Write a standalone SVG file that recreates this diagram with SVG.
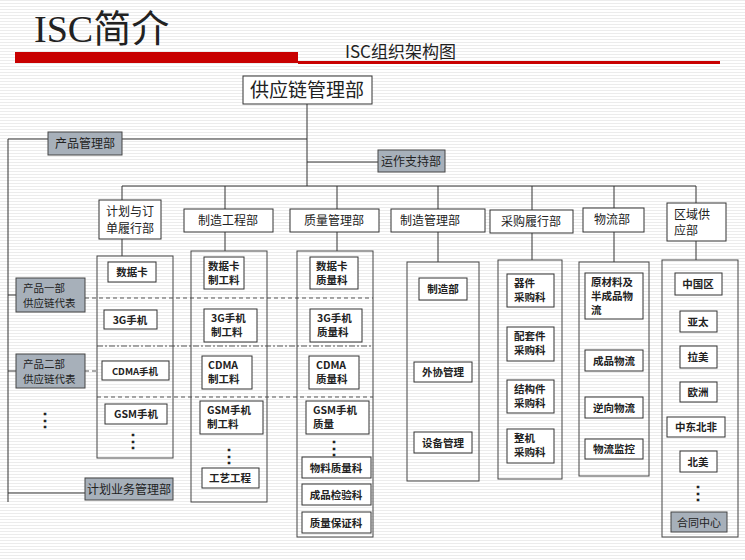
<svg xmlns="http://www.w3.org/2000/svg" width="745" height="560" viewBox="0 0 745 560">
<defs>
<pattern id="bg" width="4" height="3" patternUnits="userSpaceOnUse"><rect width="4" height="3" fill="#fff"/><rect width="4" height="1" fill="#ececec"/></pattern>
<style>
.b{fill:#fff;stroke:#333;stroke-width:1}
.g{fill:#a7b0ba;stroke:#444;stroke-width:1}
.c{fill:none;stroke:#444;stroke-width:1}
.l{stroke:#333;stroke-width:1;fill:none}
.d{stroke:#555;stroke-width:1;stroke-dasharray:4 3;fill:none}
.dd{stroke:#555;stroke-width:1;stroke-dasharray:6 2 2 2;fill:none}
text{font-family:"Noto Sans CJK SC","Liberation Sans",sans-serif;fill:#222}
.t{font-size:12px}
.i{font-size:10.5px;font-weight:bold}
.m{text-anchor:middle}
.s{font-size:10.5px}
</style>
</defs>
<rect width="745" height="560" fill="url(#bg)"/>
<text x="34" y="42" style="font-family:'Liberation Serif','Noto Sans CJK SC',serif;font-size:38px">ISC简介</text>
<rect x="15" y="52" width="283" height="11" fill="#c80000"/>
<rect x="298" y="61" width="422" height="3" fill="#c80000"/>
<text x="345" y="58" style="font-size:17px">ISC组织架构图</text>
<g id="connectors">
<path class="l" d="M307 104V186M8 139H307M307 162H378M122 186H696M8 139V502M8 295H16M8 371H16M8 493H85"/>
<path class="l" d="M122 186V200M225 186V209M337 186V209M438 186V209M532 186V210M614 186V208M696 186V203"/>
<path class="l" d="M122 239V256M225 232V251M337 232V251M438 232V262M532 233V260M614 232V262M696 241V260"/>
<path class="d" d="M85 298H373M85 371H97M97 397H373"/>
<path class="dd" d="M97 346H373"/>
</g>
<g id="top"><rect class="b" x="243" y="76" width="129" height="28"/><text class="m" x="307" y="97" style="font-size:19px">供应链管理部</text></g>
<g id="cp"><rect class="g" x="48" y="132" width="74" height="23"/><text class="t m" x="85" y="148">产品管理部</text></g>
<g id="yz"><rect class="g" x="378" y="150" width="67" height="22"/><text class="t m" x="411" y="166">运作支持部</text></g>
<g id="d1"><rect class="b" x="99" y="200" width="62" height="39"/><text class="t" x="106" y="216">计划与订</text><text class="t" x="106" y="233">单履行部</text></g>
<g id="d2"><rect class="b" x="184" y="209" width="89" height="23"/><text class="t m" x="228" y="225">制造工程部</text></g>
<g id="d3"><rect class="b" x="290" y="209" width="89" height="23"/><text class="t m" x="334" y="225">质量管理部</text></g>
<g id="d4"><rect class="b" x="391" y="209" width="94" height="23"/><text class="t m" x="430" y="225">制造管理部</text></g>
<g id="d5"><rect class="b" x="490" y="210" width="83" height="23"/><text class="t m" x="531" y="226">采购履行部</text></g>
<g id="d6"><rect class="b" x="583" y="208" width="61" height="24"/><text class="t m" x="612" y="224">物流部</text></g>
<g id="d7"><rect class="b" x="667" y="203" width="59" height="38"/><text class="t" x="674" y="219">区域供</text><text class="t" x="674" y="235">应部</text></g>
<g id="p1"><rect class="g" x="16" y="278" width="69" height="34"/><text class="s" x="23" y="292">产品一部</text><text class="s" x="23" y="307">供应链代表</text></g>
<g id="p2"><rect class="g" x="16" y="354" width="69" height="34"/><text class="s" x="23" y="368">产品二部</text><text class="s" x="23" y="383">供应链代表</text></g>
<text class="m" x="45" y="426" style="font-size:18px;font-weight:bold">⋮</text>
<g id="jh"><rect class="g" x="85" y="478" width="88" height="22"/><text class="t m" x="129" y="494">计划业务管理部</text></g>
<g id="col1"><rect class="c" x="97" y="256" width="76" height="202"/>
<rect class="b" x="108" y="262" width="48" height="20"/><text class="i m" x="132" y="276">数据卡</text>
<rect class="b" x="104" y="310" width="53" height="19"/><text class="i m" x="130" y="324">3G手机</text>
<rect class="b" x="102" y="361" width="67" height="19"/><text class="i m" x="135" y="375" style="font-size:9.5px">CDMA手机</text>
<rect class="b" x="105" y="404" width="62" height="20"/><text class="i m" x="136" y="418">GSM手机</text>
<text class="m" x="133" y="447" style="font-size:18px;font-weight:bold">⋮</text></g>
<g id="col2"><rect class="c" x="191" y="251" width="76" height="251"/>
<rect class="b" x="204" y="257" width="40" height="32"/><text class="i" x="208" y="270">数据卡</text><text class="i" x="208" y="284">制工料</text>
<rect class="b" x="204" y="309" width="53" height="33"/><text class="i" x="211" y="322">3G手机</text><text class="i" x="211" y="336">制工料</text>
<rect class="b" x="202" y="356" width="50" height="33"/><text class="i" x="208" y="369">CDMA</text><text class="i" x="208" y="383">制工料</text>
<rect class="b" x="200" y="401" width="63" height="33"/><text class="i" x="207" y="414">GSM手机</text><text class="i" x="207" y="428">制工料</text>
<text class="m" x="229" y="462" style="font-size:18px;font-weight:bold">⋮</text>
<rect class="b" x="202" y="468" width="57" height="20"/><text class="i m" x="230" y="482">工艺工程</text></g>
<g id="col3"><rect class="c" x="297" y="251" width="76" height="286"/>
<rect class="b" x="310" y="257" width="48" height="32"/><text class="i" x="316" y="270">数据卡</text><text class="i" x="316" y="284">质量科</text>
<rect class="b" x="310" y="309" width="52" height="33"/><text class="i" x="317" y="322">3G手机</text><text class="i" x="317" y="336">质量科</text>
<rect class="b" x="309" y="356" width="50" height="33"/><text class="i" x="316" y="369">CDMA</text><text class="i" x="316" y="383">质量科</text>
<rect class="b" x="306" y="401" width="63" height="33"/><text class="i" x="313" y="414">GSM手机</text><text class="i" x="313" y="428">质量</text>
<text class="m" x="334" y="454" style="font-size:18px;font-weight:bold">⋮</text>
<rect class="b" x="302" y="457" width="69" height="21"/><text class="i m" x="336" y="472">物料质量科</text>
<rect class="b" x="302" y="484" width="69" height="21"/><text class="i m" x="336" y="499">成品检验科</text>
<rect class="b" x="302" y="512" width="69" height="21"/><text class="i m" x="336" y="527">质量保证科</text></g>
<g id="col4"><rect class="c" x="407" y="262" width="72" height="219"/>
<rect class="b" x="419" y="278" width="48" height="22"/><text class="i m" x="443" y="293">制造部</text>
<rect class="b" x="414" y="362" width="58" height="20"/><text class="i m" x="443" y="376">外协管理</text>
<rect class="b" x="414" y="432" width="58" height="21"/><text class="i m" x="443" y="447">设备管理</text></g>
<g id="col5"><rect class="c" x="498" y="260" width="64" height="219"/>
<rect class="b" x="507" y="274" width="47" height="33"/><text class="i" x="514" y="287">器件</text><text class="i" x="514" y="301">采购科</text>
<rect class="b" x="507" y="327" width="47" height="34"/><text class="i" x="514" y="340">配套件</text><text class="i" x="514" y="354">采购科</text>
<rect class="b" x="507" y="380" width="47" height="33"/><text class="i" x="514" y="393">结构件</text><text class="i" x="514" y="407">采购科</text>
<rect class="b" x="507" y="429" width="47" height="34"/><text class="i" x="514" y="442">整机</text><text class="i" x="514" y="456">采购科</text></g>
<g id="col6"><rect class="c" x="579" y="262" width="70" height="214"/>
<rect class="b" x="585" y="273" width="58" height="46"/><text class="i" x="591" y="286">原材料及</text><text class="i" x="591" y="300">半成品物</text><text class="i" x="591" y="314">流</text>
<rect class="b" x="585" y="350" width="58" height="21"/><text class="i m" x="614" y="365">成品物流</text>
<rect class="b" x="585" y="397" width="58" height="21"/><text class="i m" x="614" y="412">逆向物流</text>
<rect class="b" x="585" y="439" width="58" height="20"/><text class="i m" x="614" y="453">物流监控</text></g>
<g id="col7"><rect class="c" x="662" y="260" width="76" height="277"/>
<rect class="b" x="675" y="273" width="47" height="22"/><text class="i m" x="698" y="288">中国区</text>
<rect class="b" x="680" y="311" width="37" height="21"/><text class="i m" x="698" y="326">亚太</text>
<rect class="b" x="680" y="346" width="37" height="22"/><text class="i m" x="698" y="361">拉美</text>
<rect class="b" x="680" y="382" width="37" height="20"/><text class="i m" x="698" y="396">欧洲</text>
<rect class="b" x="667" y="417" width="58" height="20"/><text class="i m" x="696" y="431">中东北非</text>
<rect class="b" x="680" y="451" width="37" height="21"/><text class="i m" x="698" y="466">北美</text>
<text class="m" x="698" y="499" style="font-size:18px;font-weight:bold">⋮</text>
<rect class="g" x="671" y="512" width="56" height="20"/><text class="m" x="699" y="527" style="font-size:11px">合同中心</text></g>
</svg>
